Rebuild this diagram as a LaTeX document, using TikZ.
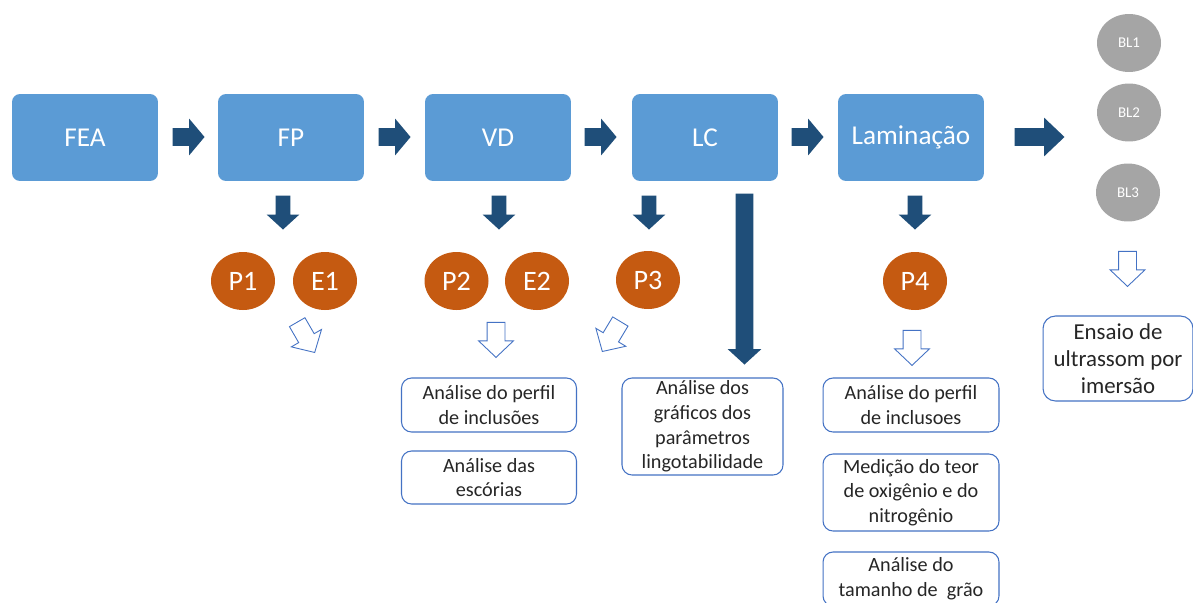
\documentclass[tikz,border=0pt]{standalone}
\usepackage{fontspec}
\setmainfont{Carlito}
\usetikzlibrary{shapes.geometric,shapes.arrows}
\definecolor{stepblue}{HTML}{5B9BD5}
\definecolor{arrowblue}{HTML}{1F4E79}
\definecolor{lineblue}{HTML}{4472C4}
\definecolor{rust}{HTML}{C55A11}
\definecolor{blockgray}{HTML}{A5A5A5}
\definecolor{txtgray}{HTML}{262626}
\tikzset{
  etapa/.style={rectangle,rounded corners=0.16cm,fill=stepblue,text=white,minimum width=2.92cm,minimum height=1.74cm,font=\fontsize{15.5}{18}\selectfont},
  amostra/.style={ellipse,fill=rust,text=white,minimum width=1.28cm,minimum height=1.16cm,inner sep=0pt,font=\fontsize{16}{18}\selectfont},
  bloco/.style={ellipse,fill=blockgray,text=white,minimum width=1.28cm,minimum height=1.16cm,inner sep=0pt,font=\fontsize{8.5}{10}\selectfont},
  ensaio/.style={rectangle,rounded corners=0.2cm,draw=lineblue,line width=0.6pt,fill=white,text=txtgray,align=center,inner sep=1pt,minimum width=3.5cm,font=\fontsize{11.5}{14}\selectfont},
  seta/.style={single arrow,anchor=tip,fill=arrowblue,inner xsep=0pt,inner ysep=0.17cm,minimum height=0.64cm,single arrow head extend=0.19cm,single arrow tip angle=100},
  desce/.style={single arrow,anchor=tip,fill=arrowblue,inner xsep=0pt,inner ysep=0.14cm,rotate=-90,minimum height=0.68cm,single arrow head extend=0.18cm,single arrow tip angle=95},
  vazada/.style={single arrow,anchor=tip,draw=lineblue,fill=white,line width=0.5pt,inner xsep=0pt,inner ysep=0.17cm,minimum height=0.70cm,single arrow head extend=0.17cm,single arrow tip angle=93}
}

\begin{document}
\begin{tikzpicture}[x=0.02cm,y=-0.02cm]
\clip (0,0) rectangle (1193,602);
\fill[white] (0,0) rectangle (1193,602);
\node[etapa] (fea) at (85,137.5) {FEA};
\node[etapa] (fp) at (291,137.5) {FP};
\node[etapa] (vd) at (498,137.5) {VD};
\node[etapa] (lc) at (705,137.5) {LC};
\node[etapa] (lam) at (911,137.5) {Laminação};
\node[seta] (s1) at (205,137) {};
\node[seta] (s2) at (411,137) {};
\node[seta] (s3) at (617,137) {};
\node[seta] (s4) at (824,137) {};
\node[seta,minimum height=1cm,single arrow head extend=0.21cm,single arrow tip angle=87] (s5) at (1065,137) {};
\node[desce] (d1) at (283,230) {};
\node[desce] (d2) at (499,230) {};
\node[desce] (d3) at (649,230) {};
\node[desce] (d4) at (915,230) {};
\node[desce,minimum height=3.42cm,inner ysep=0.17cm,single arrow head extend=0.16cm] (d5) at (744.5,365) {};
\node[amostra] (p1) at (243,281) {P1};
\node[amostra] (e1) at (325,281) {E1};
\node[amostra] (p2) at (456.5,281) {P2};
\node[amostra] (e2) at (537,281) {E2};
\node[amostra] (p3) at (648,280) {P3};
\node[amostra] (p4) at (915,281) {P4};
\node[bloco] (bl1) at (1129,43) {BL1};
\node[bloco] (bl2) at (1129,112.5) {BL2};
\node[bloco] (bl3) at (1128,192.5) {BL3};
\node[vazada,rotate=-60] (h1) at (315,353) {};
\node[vazada,rotate=-90] (h2) at (496,358) {};
\node[vazada,rotate=-121] (h3) at (602,352) {};
\node[vazada,rotate=-90] (h4) at (912,366) {};
\node[vazada,rotate=-90] (h5) at (1127.5,287) {};
\node[ensaio,minimum height=1.08cm] (r1) at (489,405) {Análise do perfil\\de inclusões};
\node[ensaio,minimum height=1.06cm] (r2) at (489,477.5) {Análise das\\escórias};
\node[ensaio,minimum width=3.22cm,minimum height=1.94cm] (r3) at (702.5,426.5) {Análise dos\\gráficos dos\\parâmetros\\lingotabilidade};
\node[ensaio,minimum width=3.52cm,minimum height=1.08cm] (r4) at (911,405) {Análise do perfil\\de inclusoes};
\node[ensaio,minimum width=3.52cm,minimum height=1.54cm] (r5) at (911,492.5) {Medição do teor\\de oxigênio e do\\nitrogênio};
\node[ensaio,minimum width=3.52cm,minimum height=1.08cm] (r6) at (911,579) {Análise do\\tamanho de\ \ grão};
\node[ensaio,minimum width=3.0cm,minimum height=1.7cm,rounded corners=0.25cm,font=\fontsize{13}{15.5}\selectfont] (r7) at (1118,358.5) {Ensaio de\\ultrassom por\\imersão};
\end{tikzpicture}
\end{document}
